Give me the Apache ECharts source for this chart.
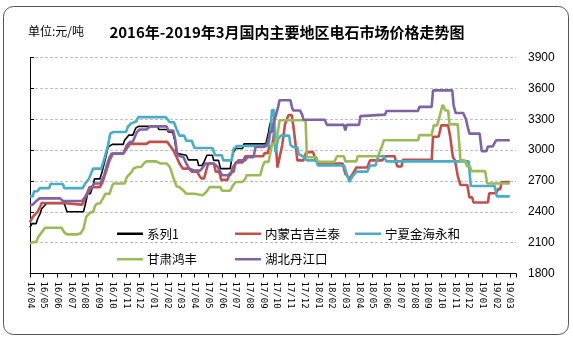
<!DOCTYPE html>
<html><head><meta charset="utf-8">
<script src="https://cdn.jsdelivr.net/npm/echarts@6/dist/echarts.min.js"></script>
<style>html,body{margin:0;padding:0;background:#fff}#c{width:573px;height:342px}</style>
</head><body><div id="c"></div>
<script>
// x values: months elapsed since 2016-04-01 (weekly price changes), y: price 元/吨
const months = ['16/04','16/05','16/06','16/07','16/08','16/09','16/10','16/11','16/12',
  '17/01','17/02','17/03','17/04','17/05','17/06','17/07','17/08','17/09','17/10','17/11','17/12',
  '18/01','18/02','18/03','18/04','18/05','18/06','18/07','18/08','18/09','18/10','18/11','18/12',
  '19/01','19/02','19/03'];
const yTicks = [1800, 2100, 2400, 2700, 3000, 3300, 3600, 3900];
const names = ['系列1','内蒙古吉兰泰','宁夏金海永和','甘肃鸿丰','湖北丹江口'];
const colors = ['#000000','#c0504d','#4bacc6','#9bbb59','#8064a2'];

const xilie1 = [[0,2250],[0.15,2285],[0.45,2285],[0.55,2330],[0.73,2380],[0.85,2430],[0.95,2430],[1.2,2480],[2.5,2480],[2.7,2400],[3.9,2400],[4.05,2480],[4.2,2575],[4.4,2575],[4.6,2655],[4.7,2720],[5.1,2720],[5.25,2785],[5.5,2915],[5.7,3030],[6.0,3055],[6.8,3055],[6.9,3095],[7.2,3145],[7.5,3145],[7.7,3210],[7.9,3230],[9.3,3230],[9.4,3200],[10.0,3200],[10.1,3175],[10.4,3175],[10.55,3100],[10.7,2965],[10.85,2965],[10.95,2950],[11.4,2950],[11.55,2905],[12.2,2905],[12.3,2850],[12.55,2850],[12.7,2885],[12.9,2950],[13.3,2950],[13.4,2900],[13.75,2900],[13.9,2820],[14.6,2820],[14.7,2900],[14.85,2980],[15.0,3015],[15.5,3015],[15.6,3060],[17.2,3060],[17.4,3175],[17.5,3255],[17.65,3300]];

const neimenggu = [[0,2300],[0.2,2350],[0.55,2400],[0.75,2450],[0.85,2485],[2.35,2485],[2.45,2470],[3.8,2470],[3.95,2510],[4.1,2560],[4.35,2640],[5.1,2640],[5.3,2690],[5.55,2790],[5.8,2900],[6.05,2965],[6.8,2965],[7.05,3015],[7.3,3060],[8.5,3060],[8.7,3080],[10.0,3080],[10.2,3045],[10.45,3000],[10.7,2930],[10.9,2870],[11.15,2820],[11.6,2820],[11.8,2790],[12.2,2790],[12.35,2750],[12.5,2725],[12.7,2725],[12.85,2800],[13.0,2870],[13.4,2870],[13.55,2790],[13.8,2790],[13.95,2710],[14.4,2710],[14.55,2770],[14.85,2790],[15.0,2880],[15.5,2880],[15.7,2940],[17.0,2940],[17.1,2970],[17.35,2970],[17.45,3030],[17.65,3040],[17.75,3110],[17.85,3220],[17.95,3220],[18.05,2830],[18.15,2830],[18.4,3050],[18.6,3250],[18.85,3340],[19.1,3340],[19.25,3190],[19.35,3080],[19.5,2900],[19.95,2900],[20.15,2980],[20.65,2980],[20.85,2900],[21.0,2870],[22.8,2870],[23.0,2770],[23.3,2720],[23.5,2760],[23.8,2830],[24.6,2830],[24.8,2900],[25.7,2900],[25.9,2940],[26.6,2940],[26.7,2880],[26.8,2840],[27.1,2840],[27.2,2905],[29.3,2905],[29.4,3130],[29.8,3130],[30.0,3240],[30.5,3240],[30.65,3130],[30.85,2930],[31.0,2900],[31.2,2750],[31.4,2660],[31.9,2660],[32.05,2540],[32.25,2540],[32.35,2490],[33.4,2490],[33.5,2580],[34.0,2580],[34.15,2620],[34.3,2620],[34.4,2690],[35.0,2690]];

const ningxia = [[0,2550],[0.2,2550],[0.3,2600],[0.55,2600],[0.7,2630],[1.4,2630],[1.5,2670],[2.4,2670],[2.5,2630],[3.85,2630],[4.0,2670],[4.3,2720],[4.6,2820],[5.2,2820],[5.45,2930],[5.7,3050],[5.85,3160],[6.05,3175],[7.0,3175],[7.15,3230],[7.4,3260],[7.75,3280],[7.9,3320],[9.9,3320],[10.2,3270],[10.5,3270],[10.7,3200],[10.9,3140],[11.25,3140],[11.4,3090],[11.8,3090],[12.0,3020],[13.3,3020],[13.5,2950],[14.0,2950],[14.1,2900],[14.7,2900],[14.85,3010],[15.1,3040],[17.4,3040],[17.55,3200],[17.65,3390],[17.8,3390],[17.9,2980],[18.1,3110],[18.3,3140],[18.9,3140],[19.0,3050],[19.2,3030],[19.5,3030],[19.6,2960],[19.9,2940],[20.2,2900],[20.9,2900],[21.0,2850],[22.9,2850],[23.1,2770],[23.3,2690],[23.5,2740],[23.8,2790],[24.6,2790],[24.8,2850],[25.2,2850],[25.3,2900],[25.4,2940],[25.8,2940],[26.0,2890],[32.0,2890],[32.15,2650],[33.9,2650],[34.05,2550],[35.0,2550]];

const gansu = [[0,2090],[0.2,2105],[0.45,2105],[0.6,2155],[0.85,2200],[1.1,2245],[2.3,2245],[2.5,2200],[2.7,2180],[3.4,2180],[3.7,2190],[3.9,2235],[4.1,2350],[4.4,2395],[4.6,2395],[4.75,2460],[4.9,2480],[5.1,2480],[5.3,2525],[5.5,2575],[5.8,2575],[6.0,2655],[6.1,2675],[6.9,2675],[7.05,2735],[7.4,2785],[7.55,2820],[7.8,2835],[8.1,2835],[8.3,2870],[8.5,2890],[9.2,2890],[9.5,2870],[9.97,2870],[10.2,2835],[10.45,2735],[10.7,2645],[10.9,2640],[11.2,2605],[11.4,2575],[12.0,2575],[12.1,2560],[12.6,2560],[12.9,2600],[13.1,2640],[13.9,2640],[14.0,2605],[14.6,2605],[14.8,2655],[15.0,2690],[15.5,2690],[15.7,2720],[15.8,2755],[16.8,2755],[16.95,2835],[17.1,2885],[17.4,2885],[17.5,2950],[17.65,3060],[17.9,3060],[18.05,3145],[18.2,3290],[20.1,3290],[20.2,2930],[20.9,2930],[21.0,2885],[22.2,2885],[22.4,2940],[22.9,2940],[23.0,2890],[23.8,2890],[23.9,2940],[25.4,2940],[25.55,3000],[25.7,3045],[25.8,3095],[28.3,3095],[28.4,3145],[29.3,3145],[29.45,3240],[29.7,3240],[29.9,3340],[30.1,3440],[30.2,3440],[30.3,3385],[30.5,3385],[30.6,3250],[31.2,3250],[31.4,2900],[31.7,2900],[31.9,2840],[32.1,2840],[32.2,2795],[33.2,2795],[33.35,2675],[35.0,2675]];

const hubei = [[0,2460],[0.2,2470],[0.5,2510],[0.7,2530],[2.2,2530],[2.4,2505],[3.8,2505],[4.0,2540],[4.2,2575],[4.5,2640],[4.7,2675],[5.1,2675],[5.4,2750],[5.6,2850],[5.8,2930],[5.95,2965],[6.8,2965],[7.05,3045],[7.3,3080],[7.5,3080],[7.8,3175],[8.0,3200],[8.5,3200],[8.75,3230],[9.97,3230],[10.1,3190],[10.45,3190],[10.6,3095],[10.75,2950],[11.2,2930],[11.4,2870],[11.6,2820],[12.0,2800],[12.4,2800],[12.6,2830],[12.8,2870],[13.4,2870],[13.7,2835],[13.9,2785],[14.0,2755],[14.6,2755],[14.8,2835],[15.0,2870],[15.2,2900],[15.7,2900],[15.85,2930],[16.3,2930],[16.45,3030],[17.1,3030],[17.3,3060],[17.4,3110],[17.5,3175],[17.65,3175],[17.75,3255],[17.9,3320],[18.0,3370],[18.1,3420],[18.2,3485],[19.0,3485],[19.1,3420],[19.2,3385],[19.7,3385],[19.85,3345],[19.95,3295],[21.5,3295],[21.65,3245],[22.9,3245],[23.0,3190],[23.1,3245],[24.0,3245],[24.1,3330],[24.2,3345],[25.9,3345],[26.0,3380],[28.3,3380],[28.4,3420],[29.3,3420],[29.4,3580],[30.8,3580],[30.9,3435],[31.05,3360],[31.6,3360],[31.8,3300],[31.9,3240],[32.05,3160],[32.8,3160],[32.95,2990],[33.3,2990],[33.4,3035],[33.75,3035],[33.85,3050],[34.0,3095],[35.0,3095]];

const seriesData = [xilie1, neimenggu, ningxia, gansu, hubei];
const legendPos = [[117,227.5],[235,227.5],[355,227.5],[117,253],[235,253]];

const chart = echarts.init(document.getElementById('c'), null, {renderer:'canvas'});
const cjk = '"Noto Sans CJK SC", sans-serif';
const yMin = yTicks[0], yMax = yTicks[yTicks.length-1], yStep = yTicks[1]-yTicks[0];

chart.setOption({
  animation: false,
  backgroundColor: '#ffffff',
  graphic: [
    {type:'rect', z:-10, silent:true, shape:{x:3.5,y:6.5,width:565,height:328,r:10}, style:{fill:'none', stroke:'#555', lineWidth:1}},
    {type:'text', x:287, y:32, style:{text:'2016年-2019年3月国内主要地区电石市场价格走势图', fontSize:15, fontWeight:'bold', fontFamily:cjk, fill:'#000', align:'center', verticalAlign:'middle'}},
    {type:'text', x:28, y:31, style:{text:'单位:元/吨', fontSize:12, fontFamily:cjk, fill:'#000', align:'left', verticalAlign:'middle'}}
  ],
  grid: {left:30, right:57, top:57.5, bottom:68.5, containLabel:false},
  legend: names.map((n,i)=>({
    data:[n], left:legendPos[i][0], top:legendPos[i][1], padding:0,
    icon:'rect', itemWidth:26, itemHeight:2.5, itemGap:0,
    textStyle:{fontSize:12.5, fontFamily:cjk, color:'#000', padding:[0,0,0,-1]},
    selectedMode:false
  })),
  xAxis: {
    type:'value', min:0, max:35.45, interval:1,
    axisLine:{show:true, lineStyle:{color:'#000', width:1}},
    axisTick:{show:true, inside:false, length:4, lineStyle:{color:'#000'}},
    splitLine:{show:false},
    axisLabel:{
      rotate:-90, margin:8, fontSize:9, fontFamily:'"DejaVu Sans Mono", monospace', color:'#000',
      formatter:(v)=>{const r=Math.round(v); return Math.abs(v-r)<1e-6 && months[r] ? months[r] : '';}
    }
  },
  yAxis: [
    {type:'value', position:'right', min:yMin, max:yMax, interval:yStep,
     axisLine:{show:false}, axisTick:{show:false},
     splitLine:{show:true, lineStyle:{color:'#c0c0c0', type:[3,2], width:1}},
     axisLabel:{margin:12, fontSize:12, fontFamily:'"Liberation Sans", sans-serif', color:'#000', formatter:(v)=>String(v)}},
    {type:'value', position:'left', min:yMin, max:yMax, interval:yStep,
     axisLine:{show:true, onZero:false, lineStyle:{color:'#000', width:1}},
     axisTick:{show:true, inside:true, length:4, lineStyle:{color:'#000'}},
     axisLabel:{show:false}, splitLine:{show:false}}
  ],
  series: names.map((n,i)=>({
    name:n, type:'line', data:seriesData[i], symbol:'none', showSymbol:false,
    yAxisIndex:0, color:colors[i],
    lineStyle:{width: i===0 ? 1.6 : 2.6, color:colors[i]},
    emphasis:{disabled:true}
  }))
});
</script></body></html>
